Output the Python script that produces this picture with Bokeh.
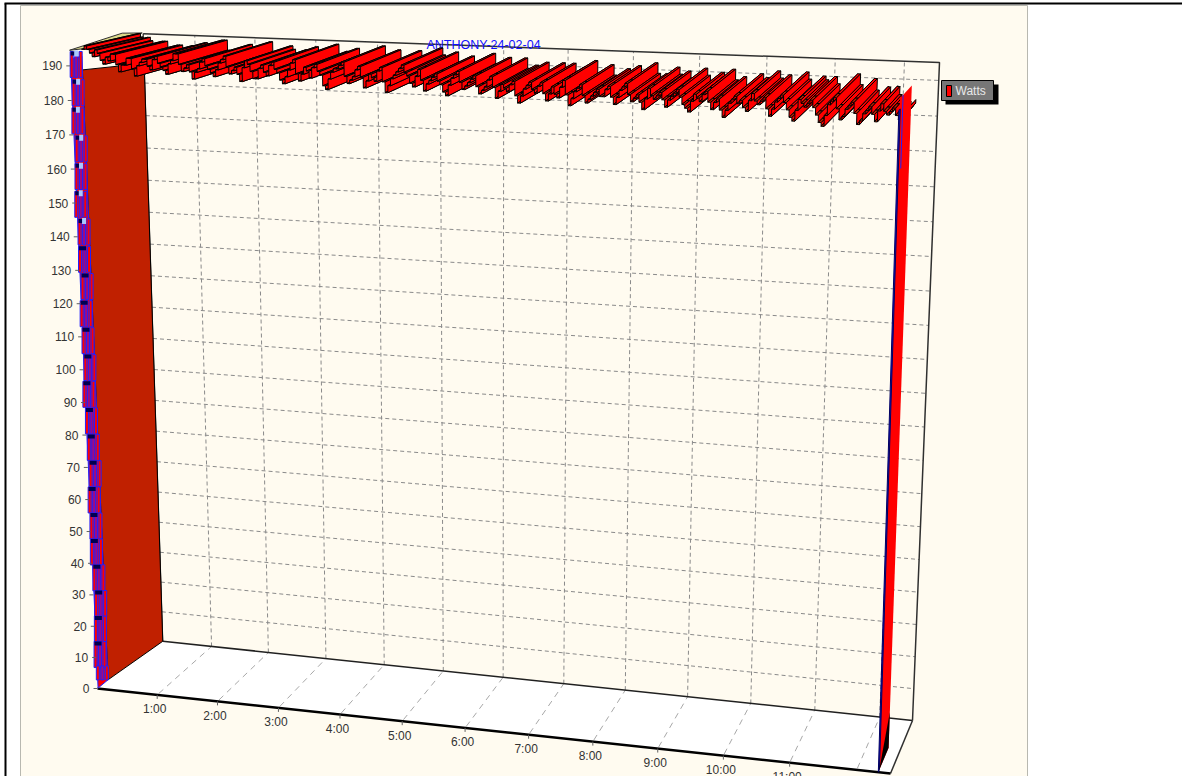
from bokeh.plotting import figure
from bokeh.embed import file_html
from bokeh.resources import INLINE
from bokeh.core.properties import value
import numpy as np

# ---- chart data ----
chart_title = "ANTHONY-24-02-04"
series_name = "Watts"
hour_labels = ["1:00","2:00","3:00","4:00","5:00","6:00","7:00","8:00","9:00","10:00","11:00"]
hour_ticks = [1,2,3,4,5,6,7,8,9,10,11]
watt_ticks = [0,10,20,30,40,50,60,70,80,90,100,110,120,130,140,150,160,170,180,190]
sample_step_hours = 1/24
watts = [
 194,195,194,193,192,194,193,191,190,192,191,193,193,190,188,190,190,192,192,189,187,190,191,192,
 192,190,189,192,193,191,190,189,188,191,192,194,194,191,189,190,191,189,187,189,190,192,193,191,
 190,189,188,190,192,193,194,191,189,190,191,189,187,191,193,192,190,188,188,191,192,190,189,192,
 193,191,190,188,187,189,191,193,194,190,188,190,192,191,189,192,193,191,190,187,186,189,191,192,
 192,193,194,190,188,189,190,192,193,190,187,189,191,190,189,192,193,189,186,188,190,191,192,193,
 194,192,191,189,188,191,193,190,187,189,190,191,192,190,189,187,186,189,191,192,193,190,188,189,
 190,191,192,189,187,188,189,191,192,189,186,188,190,189,188,190,191,187,185,187,189,190,191,189,
 188,190,191,188,186,188,190,188,187,190,192,188,185,187,189,190,191,188,186,187,188,189,190,188,
 188,190,191,188,186,188,190,191,192,189,187,188,189,187,185,188,191,189,188,189,190,188,186,188,
 189,190,191,189,187,186,185,188,190,189,188,190,191,188,186,188,189,186,184,186,188,189,190,188,
 189,187,186,189,191,189,188,189,190,187,185,187,189,190,191,189,187,185,184,187,190,189,188,189,
 190,188,186,184,183,186,189,190,191,188,185,186,188,189,190,187,184,185,187,188,189,187,185,188,
 190,188,187,188,189,187,186,187,188]

ramp_jitter = [0,1,-1,2,0,-2,1,0,2,-1,0,1,-2,0,1,2,-1,0,-1,1,2,0,-2]

W, H = 1182, 776
HMAX, VMAX = 12.5, 195.0
HWALL = 0.13
RED, BRICK, CREAM = "#ff0000", "#c02000", "#fffbf0"

def homography(dst):
    src = [(0,0),(HMAX,0),(0,VMAX),(HMAX,VMAX)]
    A, b = [], []
    for (x,y),(u,v) in zip(src,dst):
        A.append([x,y,1,0,0,0,-u*x,-u*y]); b.append(u)
        A.append([0,0,0,x,y,1,-v*x,-v*y]); b.append(v)
    s = np.linalg.solve(np.array(A,float),np.array(b,float))
    return np.append(s,1).reshape(3,3)

HF = homography([(97,688),(890,773),(69,48),(912,92)])
HB = homography([(155,640),(912,720),(135,33),(939,62)])

def pj(h,v,z=0.0):
    q = np.array([h,v,1.0])
    a = HF@q; a = a[:2]/a[2]
    b = HB@q; b = b[:2]/b[2]
    r = a+(b-a)*z
    return float(r[0]),float(r[1])

def poly(pts):
    P=[pj(*t) for t in pts]
    return [x for x,_ in P],[y for _,y in P]

p = figure(width=W,height=H,x_range=(0,W),y_range=(H,0),output_backend="svg",
           toolbar_location=None,min_border=0,border_fill_color="white",background_fill_color="white")
p.axis.visible=False
p.grid.visible=False
p.outline_line_color=None
p.styles={"position":"absolute","left":"0px","top":"0px"}

p.quad(left=[20],right=[1027],top=[5],bottom=[H],fill_color=CREAM,line_color="#b8b8b0",line_width=1)
p.line([5,5],[3,H],line_color="black",line_width=2)
p.line([4,W],[3,3],line_color="black",line_width=2)

xs,ys=poly([(0,0,0),(HMAX,0,0),(HMAX,0,1),(HWALL,0,1)])
p.patch(xs,ys,fill_color="white",line_color=None)

for t in watt_ticks[1:]:
    xs,ys=poly([(HWALL,t,1),(HMAX,t,1)])
    p.line(xs,ys,line_color="#8a8a8a",line_dash="4 3",line_width=1)
for t in hour_ticks+[12]:
    xs,ys=poly([(t,0,1),(t,VMAX,1)])
    p.line(xs,ys,line_color="#8a8a8a",line_dash="4 3",line_width=1)
    xs,ys=poly([(t,0,0.03),(t,0,1)])
    p.line(xs,ys,line_color="#a8a8a8",line_dash="6 5",line_width=1)

for pts,c,lw in [([(HWALL,VMAX,1),(HMAX,VMAX,1),(HMAX,0,1)],"#303030",1.5),
                 ([(HWALL,0,1),(HMAX,0,1)],"#202020",1.5),
                 ([(HMAX,0,1),(HMAX,0,0)],"#303030",1.5),
                 ([(HWALL,0,1),(HWALL,VMAX,1)],"#202020",1.2),
                 ([(0,0,0),(HMAX,0,0)],"black",2.5)]:
    xs,ys=poly(pts)
    p.line(xs,ys,line_color=c,line_width=lw)

p.text([483],[44],text=[chart_title],text_color="#1010ff",text_font=value("Liberation Sans"),
       text_font_size="12.5px",text_align="center",text_baseline="middle")

Z0=0.18
ZS=0.32
xs,ys=poly([(0,0,Z0),(HWALL,0,1),(HWALL,186,1),(0,188,Z0)])
p.patch(xs,ys,fill_color=BRICK,line_color="black",line_width=1)

xs,ys=poly([(0,194.5,0),(0,196,0.8),(0.17,195.5,0.95),(0.15,194.5,0.18)])
p.patch(xs,ys,fill_color="#dcd98a",line_color="#303030",line_width=1)

# ribbon: each reading is a flat tread followed by a riser that runs front to back
hrs=[i*sample_step_hours for i in range(len(watts))]
rx,ry,rc=[],[],[]
for i in range(len(watts)-1):
    h0,h1,v0,v1=hrs[i],hrs[i+1],watts[i],watts[i+1]
    ZB=1.0 if h1<11.6 else 1.0-0.55*(h1-11.6)
    xs,ys=poly([(h0,v0,ZS),(h1,v0,ZS),(h1,v0,ZB),(h0,v0,ZB)])
    rx.append(xs);ry.append(ys);rc.append(RED)
    xs,ys=poly([(h0,v0,Z0),(h1,v0,Z0),(h1,v0,ZS),(h0,v0,ZS)])
    rx.append(xs);ry.append(ys);rc.append(BRICK)
    if v0!=v1:
        xs,ys=poly([(h1,v0,Z0),(h1,v1,Z0),(h1,v1,ZB),(h1,v0,ZB)])
        rx.append(xs);ry.append(ys);rc.append(RED)
p.patches(rx,ry,fill_color=rc,line_color="black",line_width=1)

# ramp-up stripe at midnight
xs,ys=poly([(0,0,0.01),(0,0,Z0),(0,192,Z0),(0,192,0.01)])
p.patch(xs,ys,fill_color=RED,line_color="#2020ff",line_width=1)
PERIOD=8.2
lx,ly,lw,lf,lh=[],[],[],[],[]
px,py=[],[]
nx,ny=[],[]
for k,j in enumerate(ramp_jitter):
    v=190-k*PERIOD
    x,y=pj(0,v,0.09)
    x+=j*0.7
    lx+=[x-4.5,x,x+4.5]; ly+=[y,y,y]; lw+=[3,3,3]; lf+=[RED,"#a00a80",RED]; lh+=[26,26,26]
    nx.append(x-2); ny.append(y-11)
    if y<240:
        px.append(x); py.append(y-11)
x,y=pj(0,3,0.09)
lx+=[x-4.5,x,x+4.5]; ly+=[y-2]*3; lw+=[3,3,3]; lf+=[RED,"#a00a80",RED]; lh+=[14,14,14]
p.rect(lx,ly,width=lw,height=lh,fill_color=lf,line_color="#2020ff",line_width=1)
p.rect(nx,ny,width=7,height=4,fill_color="#000050",line_color=None)
p.rect(px,py,width=4,height=6,fill_color="#a8c8ff",line_color=None)

# ramp-down stripe at the end
HE=12.32
ve=193
xs,ys=poly([(HE,0,0.03),(HE,0,0.46),(HE,ve,0.46),(HE,ve,0.03)])
p.patch(xs,ys,fill_color=RED,line_color=None)
xs,ys=poly([(HE,0,0.0),(HE,0,0.05),(HE,ve-3,0.05),(HE,ve-3,0.0)])
p.patch(xs,ys,fill_color="#1818e0",line_color="#000060",line_width=1)
xs,ys=poly([(HE,ve-20,0.14),(HE,ve,0.14)])
p.line(xs,ys,line_color="#2020ff",line_width=1)
xs,ys=poly([(HE,0,0.04),(HE,0,0.46),(HE,11,0.46)])
p.patch(xs,ys,fill_color="black",line_color=None)

for t in watt_ticks:
    x,y=pj(0,t,0)
    p.segment([x-4],[y],[x],[y],line_color="#606060",line_width=1)
xl=[pj(0,t,0)[0]-8 for t in watt_ticks]
yl=[pj(0,t,0)[1] for t in watt_ticks]
p.text(xl,yl,text=[str(t) for t in watt_ticks],text_color="#333333",text_font=value("Liberation Sans"),
       text_font_size="12px",text_align="right",text_baseline="middle")
for t in hour_ticks:
    x,y=pj(t,0,0)
    p.segment([x],[y],[x],[y+4],line_color="#606060",line_width=1)
xl=[pj(t,0,0)[0]-2.5 for t in hour_ticks]
yl=[pj(t,0,0)[1]+14.5 for t in hour_ticks]
p.text(xl,yl,text=hour_labels,text_color="#333333",text_font=value("Liberation Sans"),
       text_font_size="12px",text_align="center",text_baseline="middle")

p.quad(left=[945],right=[998],top=[84],bottom=[104],fill_color="black",line_color=None)
p.quad(left=[941],right=[993],top=[80],bottom=[100],fill_color="#777777",line_color="black",line_width=1)
p.quad(left=[946],right=[951],top=[85],bottom=[96],fill_color=RED,line_color="black",line_width=1)
p.text([955],[90.5],text=[series_name],text_color="#e8e8e8",text_font=value("Liberation Sans"),
       text_font_size="12px",text_align="left",text_baseline="middle")

open("out.html","w").write(file_html(p,INLINE))
